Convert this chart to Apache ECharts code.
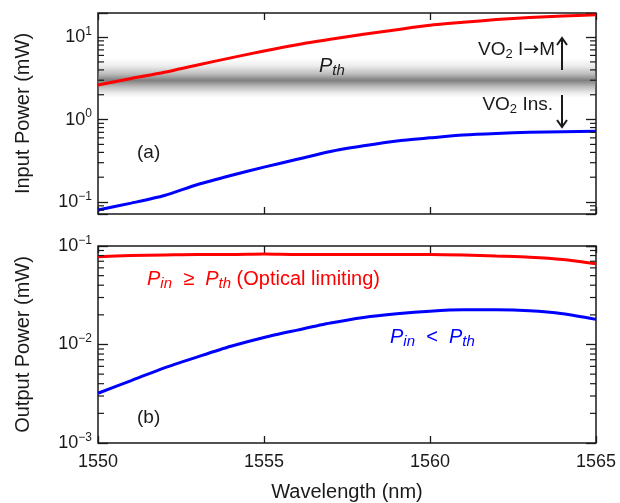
<!DOCTYPE html>
<html>
<head>
<meta charset="utf-8">
<script src="https://cdn.jsdelivr.net/npm/echarts@6/dist/echarts.min.js"></script>
<style>html,body{margin:0;padding:0;background:#fff;}#c{width:620px;height:503px;}</style>
</head>
<body>
<div id="c"></div>
<script>
// ---- data ----
const WAVELENGTH = [1550,1551,1552,1553,1554,1555,1556,1557,1558,1559,1560,1561,1562,1563,1564,1565];
const INPUT_HIGH = [2.63,3.15,3.75,4.6,5.6,6.8,8.1,9.4,10.8,12.3,13.9,15.1,16.3,17.3,18.0,18.6];
const INPUT_LOW  = [0.080,0.097,0.12,0.163,0.21,0.265,0.33,0.41,0.48,0.55,0.60,0.65,0.68,0.70,0.71,0.72];
const OUTPUT_HIGH = [0.078,0.080,0.081,0.082,0.082,0.083,0.082,0.082,0.082,0.082,0.082,0.081,0.079,0.077,0.073,0.066];
const OUTPUT_LOW  = [0.0032,0.0043,0.0058,0.0075,0.0096,0.0118,0.0140,0.0165,0.0188,0.0205,0.0218,0.0225,0.0225,0.0220,0.0205,0.0180];
const PTH_BAND = [1.85, 5.5];          // threshold band edges (mW)
const X_TICKS = [1550,1555,1560,1565];
const TOP_RANGE = [0.0716, 19.6];
const BOTTOM_RANGE = [0.001, 0.1];
const MINOR_TOP = [0.08,0.09,0.2,0.3,0.4,0.5,0.6,0.7,0.8,0.9,2,3,4,5,6,7,8,9];
const MINOR_BOTTOM = [0.002,0.003,0.004,0.005,0.006,0.007,0.008,0.009,0.02,0.03,0.04,0.05,0.06,0.07,0.08,0.09];

const pairs = (ys) => WAVELENGTH.map((x, i) => [x, ys[i]]);
const FONT = 'Liberation Sans, Arial, Helvetica, sans-serif';
const INK = '#1a1a1a';

function powLabel(v) {
  const e = Math.log10(v), r = Math.round(e);
  if (Math.abs(e - r) > 1e-6) return '';
  return '10{s|' + (r < 0 ? '\u2212' + (-r) : String(r)) + '}';
}
const yLabel = {
  show: true, formatter: powLabel, fontSize: 18, fontFamily: FONT, color: INK, margin: 6,
  rich: { s: { fontSize: 12, fontFamily: FONT, color: INK, padding: [0, 0, 11, 0] } }
};
function xAxis(grid, pos, labels, name) {
  return {
    type: 'value', gridIndex: grid, position: pos, min: X_TICKS[0], max: X_TICKS[X_TICKS.length - 1], interval: 5,
    axisLine: { show: false }, splitLine: { show: false },
    axisTick: { show: true, inside: true, length: 7, lineStyle: { color: INK, width: 1.3 } },
    axisLabel: labels ? { show: true, fontSize: 18, fontFamily: FONT, color: INK, margin: 10,
                          formatter: (v) => String(v) } : { show: false },
    name: name || '', nameLocation: 'middle', nameGap: 39,
    nameTextStyle: { fontSize: 20, fontFamily: FONT, color: INK }
  };
}
function yAxis(grid, pos, range, labels, name) {
  return {
    type: 'log', logBase: 10, gridIndex: grid, position: pos, min: range[0], max: range[1],
    axisLine: { show: false }, splitLine: { show: false },
    axisTick: { show: true, inside: true, length: 10, lineStyle: { color: INK, width: 1.3 } },
    axisLabel: labels ? yLabel : { show: false },
    name: name || '', nameLocation: 'middle', nameGap: 65, nameRotate: 90,
    nameTextStyle: { fontSize: 20, fontFamily: FONT, color: INK }
  };
}
function minorTicks(values, xi, yi) {
  return {
    type: 'custom', xAxisIndex: xi, yAxisIndex: yi, silent: true, z: 5,
    data: values.map(v => [X_TICKS[0], v]),
    renderItem: function (params, api) {
      const v = api.value(1);
      const a = api.coord([X_TICKS[0], v]);
      const b = api.coord([X_TICKS[X_TICKS.length - 1], v]);
      const st = { stroke: INK, lineWidth: 1.2 };
      return { type: 'group', children: [
        { type: 'line', shape: { x1: a[0], y1: a[1], x2: a[0] + 6, y2: a[1] }, style: st },
        { type: 'line', shape: { x1: b[0] - 6, y1: b[1], x2: b[0], y2: b[1] }, style: st }
      ]};
    }
  };
}
function lineSeries(data, color, xi, yi) {
  return { type: 'line', xAxisIndex: xi, yAxisIndex: yi, data: pairs(data), showSymbol: false, symbol: 'none',
    smooth: 0.25, lineStyle: { color: color, width: 3 }, z: 3, clip: true };
}
function mathLabel(parts, color) {
  return {
    i: { fontSize: 20, fontStyle: 'italic', fontFamily: FONT, fill: color },
    s: { fontSize: 15, fontStyle: 'italic', fontFamily: FONT, fill: color, padding: [10, 0, 0, 0] },
    n: { fontSize: 20, fontFamily: FONT, fill: color }
  };
}

const chart = echarts.init(document.getElementById('c'), null, { renderer: 'canvas' });
const gridStyle = { show: true, borderColor: INK, borderWidth: 1.5, backgroundColor: 'transparent' };
chart.setOption({
  animation: false,
  backgroundColor: '#fff',
  grid: [
    Object.assign({ left: 98, top: 13, width: 498, height: 201 }, gridStyle),
    Object.assign({ left: 98, top: 246, width: 498, height: 200 }, gridStyle)
  ],
  xAxis: [
    xAxis(0, 'bottom', false),
    xAxis(0, 'top', false),
    xAxis(1, 'bottom', true, 'Wavelength (nm)'),
    xAxis(1, 'top', false)
  ],
  yAxis: [
    yAxis(0, 'left', TOP_RANGE, true, 'Input Power (mW)'),
    yAxis(0, 'right', TOP_RANGE, false),
    yAxis(1, 'left', BOTTOM_RANGE, true, 'Output Power (mW)'),
    yAxis(1, 'right', BOTTOM_RANGE, false)
  ],
  series: [
    {
      type: 'line', xAxisIndex: 0, yAxisIndex: 0, z: 1, silent: true,
      data: [[X_TICKS[0], PTH_BAND[0]], [X_TICKS[X_TICKS.length - 1], PTH_BAND[1]]],
      symbol: 'none', lineStyle: { opacity: 0 },
      markArea: {
        silent: true,
        data: [[{ yAxis: PTH_BAND[0] }, { yAxis: PTH_BAND[1] }]],
        itemStyle: {
          color: { type: 'linear', x: 0, y: 0, x2: 0, y2: 1, colorStops: [
            { offset: 0, color: 'rgba(120,120,120,0)' },
            { offset: 0.2, color: 'rgba(120,120,120,0.15)' },
            { offset: 0.4, color: 'rgba(120,120,120,0.5)' },
            { offset: 0.56, color: 'rgba(120,120,120,0.95)' },
            { offset: 0.72, color: 'rgba(120,120,120,0.5)' },
            { offset: 0.88, color: 'rgba(120,120,120,0.15)' },
            { offset: 1, color: 'rgba(120,120,120,0)' }
          ]}
        }
      }
    },
    lineSeries(INPUT_HIGH, '#ff0000', 0, 0),
    lineSeries(INPUT_LOW, '#0000ff', 0, 0),
    lineSeries(OUTPUT_HIGH, '#ff0000', 2, 2),
    lineSeries(OUTPUT_LOW, '#0000ff', 2, 2),
    minorTicks(MINOR_TOP, 0, 0),
    minorTicks(MINOR_BOTTOM, 2, 2)
  ],
  graphic: [
    { type: 'text', x: 137, y: 153, z: 10, style: { text: '(a)', font: '19px ' + FONT, fill: INK, verticalAlign: 'middle' } },
    { type: 'text', x: 137, y: 418, z: 10, style: { text: '(b)', font: '19px ' + FONT, fill: INK, verticalAlign: 'middle' } },
    { type: 'text', x: 319, y: 66, z: 10, style: {
      text: '{i|P}{s|th}', verticalAlign: 'middle', fill: INK, rich: mathLabel(null, INK) } },
    { type: 'text', x: 555, y: 50, z: 10, style: {
      text: 'VO{s|2} I{a|\u2192}M', align: 'right', verticalAlign: 'middle', font: '19px ' + FONT, fill: INK,
      rich: { s: { fontSize: 13, fontFamily: FONT, fill: INK, padding: [8, 0, 0, 0] },
              a: { fontSize: 19, fontFamily: 'DejaVu Sans, sans-serif', fill: INK } } } },
    { type: 'text', x: 553, y: 105, z: 10, style: {
      text: 'VO{s|2} Ins.', align: 'right', verticalAlign: 'middle', font: '19px ' + FONT, fill: INK,
      rich: { s: { fontSize: 13, fontFamily: FONT, fill: INK, padding: [8, 0, 0, 0] } } } },
    { type: 'line', z: 10, shape: { x1: 562, y1: 70, x2: 562, y2: 38 }, style: { stroke: INK, lineWidth: 2 } },
    { type: 'polyline', z: 10, shape: { points: [[557, 45], [562, 38], [567, 45]] }, style: { stroke: INK, lineWidth: 2, fill: null } },
    { type: 'line', z: 10, shape: { x1: 562, y1: 95, x2: 562, y2: 127 }, style: { stroke: INK, lineWidth: 2 } },
    { type: 'polyline', z: 10, shape: { points: [[557, 120], [562, 127], [567, 120]] }, style: { stroke: INK, lineWidth: 2, fill: null } },
    { type: 'text', x: 147, y: 279, z: 10, style: {
      text: '{i|P}{s|in}{n|  \u2265  }{i|P}{s|th}{n| (Optical limiting)}', verticalAlign: 'middle', fill: '#ff0000',
      rich: mathLabel(null, '#ff0000') } },
    { type: 'text', x: 390, y: 337, z: 10, style: {
      text: '{i|P}{s|in}{n|  <  }{i|P}{s|th}', verticalAlign: 'middle', fill: '#0000ff',
      rich: mathLabel(null, '#0000ff') } }
  ]
});
</script>
</body>
</html>
